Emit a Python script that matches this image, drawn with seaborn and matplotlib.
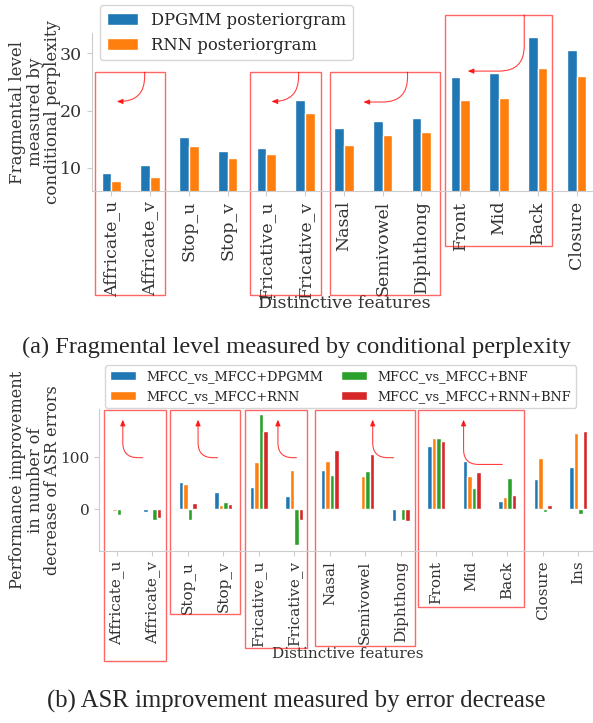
import pandas as pd
import seaborn as sns
import matplotlib.pyplot as plt
from matplotlib.patches import Rectangle

# =========================
# DATA
# =========================
feat_a = ["Affricate_u", "Affricate_v", "Stop_u", "Stop_v", "Fricative_u",
          "Fricative_v", "Nasal", "Semivowel", "Diphthong", "Front", "Mid",
          "Back", "Closure"]
dpgmm_a = [9.2, 10.5, 15.4, 13.0, 13.5, 21.8, 16.9, 18.2, 18.8, 25.8, 26.5, 32.8, 30.5]
rnn_a = [7.7, 8.5, 13.9, 11.8, 12.4, 19.6, 14.0, 15.8, 16.3, 21.9, 22.2, 27.5, 26.1]
series_a = ["DPGMM posteriorgram", "RNN posteriorgram"]

feat_b = feat_a + ["Ins"]
dpgmm_b = [0, -6, 53, 34, 42, 26, 76, 0, -22, 121, 93, 16, 59, 82]
rnn_b = [-4, -2, 49, 8, 90, 75, 93, 64, 2, 137, 63, 23, 99, 147]
bnf_b = [-11, -20, -21, 13, 182, -68, 66, 73, -21, 137, 40, 60, -6, -10]
rnnbnf_b = [-1, -16, 12, 11, 150, -21, 114, 106, -22, 131, 72, 28, 9, 150]
series_b = ["MFCC_vs_MFCC+DPGMM", "MFCC_vs_MFCC+RNN",
            "MFCC_vs_MFCC+BNF", "MFCC_vs_MFCC+RNN+BNF"]

palette = ["#1f77b4", "#ff7f0e", "#2ca02c", "#d62728"]

df_a = pd.DataFrame({"feature": feat_a * 2,
                     "value": dpgmm_a + rnn_a,
                     "model": [series_a[0]] * 13 + [series_a[1]] * 13})
df_b = pd.DataFrame({"feature": feat_b * 4,
                     "value": dpgmm_b + rnn_b + bnf_b + rnnbnf_b,
                     "model": sum([[s] * 14 for s in series_b], [])})

# =========================
# STYLE
# =========================
sns.set_style("ticks")
plt.rcParams["font.family"] = ["DejaVu Serif"]
grey = "#cccccc"
txt = "#333333"

fig = plt.figure(figsize=(5.93, 7.23), dpi=100)
ax1 = fig.add_axes([0.155, 0.736, 0.85, 0.218])
ax2 = fig.add_axes([0.167, 0.238, 0.838, 0.196])


def style_axes(ax, fs, xpad):
    sns.despine(ax=ax)
    for s in ["left", "bottom"]:
        ax.spines[s].set_color(grey)
    ax.tick_params(colors=grey, labelcolor=txt, labelsize=fs)
    ax.tick_params(axis="x", labelrotation=90)
    ax.set_xlabel("Distinctive features", fontsize=fs, color=txt, labelpad=xpad)


def draw_box(ax, x0, x1, y0, y1):
    ax.add_patch(Rectangle((x0, y0), x1 - x0, y1 - y0, fill=False,
                           edgecolor="red", alpha=0.6, lw=1, clip_on=False))


def draw_arrow(ax, tail, head, conn):
    ax.annotate("", xy=head, xytext=tail, annotation_clip=False,
                arrowprops=dict(arrowstyle="-|>,head_length=0.35,head_width=0.15",
                                color="red", alpha=0.75, lw=0.8,
                                shrinkA=0, shrinkB=0, connectionstyle=conn))


# =========================
# (a) PERPLEXITY
# =========================
fs_a = 12.5
sns.barplot(data=df_a, x="feature", y="value", hue="model", palette=palette[:2],
            width=0.5, saturation=1, errorbar=None, ax=ax1)
ax1.set_xlim(-0.5, 12.5)
ax1.set_ylim(6, 33.5)
ax1.set_yticks([10, 20, 30])
style_axes(ax1, fs_a, -3)
ax1.set_ylabel("Fragmental level\nmeasured by\nconditional perplexity", fontsize=12,
               color=txt, labelpad=-1, linespacing=1.05)
h, l = ax1.get_legend_handles_labels()
ax1.legend(h, l, loc="upper left", bbox_to_anchor=(0.169, 0.993),
           bbox_transform=fig.transFigure, borderaxespad=0, fontsize=11.8,
           handlelength=1.9, frameon=True, edgecolor=grey)

for x0, x1, y0, y1 in [(-0.41, 1.39, -12.2, 26.7), (3.59, 5.42, -12.2, 26.7),
                       (5.65, 8.47, -12.2, 26.7), (8.61, 11.37, -3.7, 36.7)]:
    draw_box(ax1, x0, x1, y0, y1)
conn_a = "angle,angleA=90,angleB=0,rad=25"
for tail, head in [((0.86, 26.7), (0.14, 21.6)), ((4.83, 26.7), (4.13, 21.6)),
                   ((7.64, 26.7), (6.50, 21.5)), ((10.65, 36.7), (9.19, 26.9))]:
    draw_arrow(ax1, tail, head, conn_a)

# =========================
# (b) ASR IMPROVEMENT
# =========================
fs_b = 11.0
sns.barplot(data=df_b, x="feature", y="value", hue="model", palette=palette,
            width=0.5, saturation=1, errorbar=None, ax=ax2)
ax2.set_xlim(-0.5, 13.5)
ax2.set_ylim(-80, 192)
ax2.set_yticks([0, 100])
style_axes(ax2, fs_b, 0)
ax2.set_ylabel("Performance improvement\nin number of\ndecrease of ASR errors",
               fontsize=11.6, color=txt, labelpad=-1, linespacing=1.05)
h, l = ax2.get_legend_handles_labels()
ax2.legend(h, l, loc="upper left", bbox_to_anchor=(0.177, 0.495),
           bbox_transform=fig.transFigure, borderaxespad=0, fontsize=9.3,
           ncol=2, columnspacing=1.4, frameon=True, edgecolor=grey)

for x0, x1, y0, y1 in [(-0.37, 1.38, -291, 189.8), (1.5, 3.46, -202, 189.8),
                       (3.6, 5.36, -267, 189.8), (5.58, 8.39, -262, 189.8),
                       (8.48, 11.46, -188, 189.8)]:
    draw_box(ax2, x0, x1, y0, y1)
conn_b = "angle,angleA=0,angleB=90,rad=15"
for tail, head in [((0.73, 99), (0.17, 172)), ((2.84, 99), (2.29, 172)),
                   ((5.06, 99), (4.54, 172)), ((7.8, 99), (7.21, 172)),
                   ((10.86, 86), (9.77, 172))]:
    draw_arrow(ax2, tail, head, conn_b)

# =========================
# CAPTIONS
# =========================
fig.text(0.5, 0.52, "(a) Fragmental level measured by conditional perplexity",
         ha="center", va="center", fontsize=17.6, family="Liberation Serif")
fig.text(0.5, 0.03, "(b) ASR improvement measured by error decrease",
         ha="center", va="center", fontsize=17.8, family="Liberation Serif")

plt.savefig("out.png", dpi=100)
plt.close()
